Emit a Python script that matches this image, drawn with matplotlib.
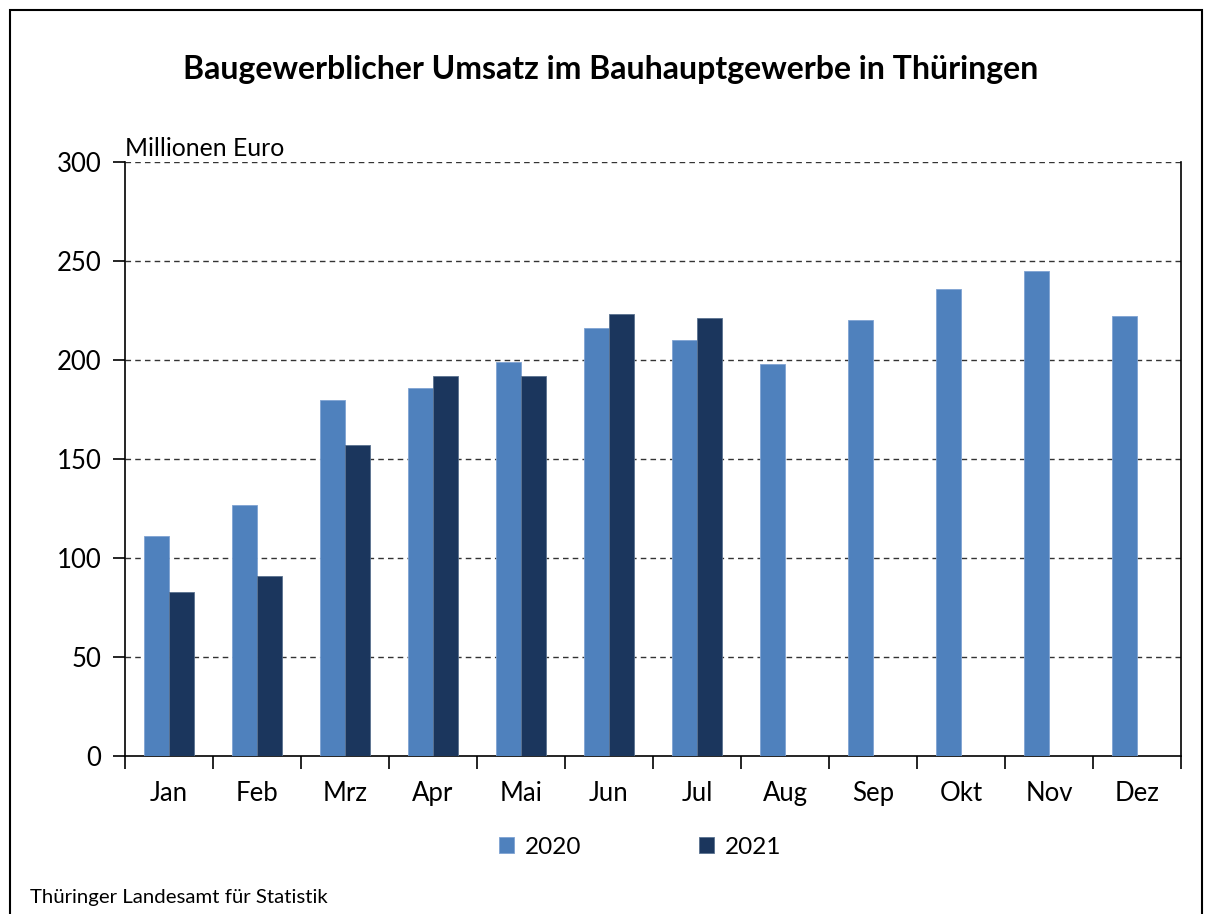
import matplotlib
matplotlib.use("Agg")
from matplotlib import pyplot as plt
from matplotlib.patches import Rectangle
import numpy as np

# data
months = ['Jan', 'Feb', 'Mrz', 'Apr', 'Mai', 'Jun', 'Jul', 'Aug', 'Sep', 'Okt', 'Nov', 'Dez']
umsatz_2020 = [111, 127, 180, 186, 199, 216, 210, 198, 220, 236, 245, 222]
umsatz_2021 = [83, 91, 157, 192, 192, 223, 221]

plt.rcParams['font.family'] = ['Lato', 'DejaVu Sans']

fig = plt.figure(figsize=(12.05, 9.14), dpi=100)
ax = fig.add_axes([125 / 1205, 1 - 756 / 914, 1056 / 1205, 594 / 914])

x = np.arange(len(months))
w = 0.284
ax.bar(x[:len(umsatz_2020)] - w / 2, umsatz_2020, w, color='#4F81BD', edgecolor='#7FA3D3', linewidth=0.6, label='2020', zorder=3)
ax.bar(x[:len(umsatz_2021)] + w / 2, umsatz_2021, w, color='#1B365D', edgecolor='#5A7290', linewidth=0.6, label='2021', zorder=3)

ax.set_xlim(-0.5, len(months) - 0.5)
ax.set_ylim(0, 300)
ax.set_yticks(range(0, 301, 50))
ax.tick_params(axis='y', labelsize=18.5, length=9, width=1.2, direction='out', pad=8)
for y in range(50, 301, 50):
    ax.axhline(y, color='#333333', linestyle=(0, (4, 3)), linewidth=1.0, zorder=1)

# month labels centred, tick marks between the months
ax.set_xticks(np.arange(-0.5, len(months)), minor=False)
ax.set_xticklabels([])
ax.set_xticks(x, minor=True)
ax.set_xticklabels(months, minor=True)
ax.tick_params(axis='x', which='major', length=9, width=1.2, direction='out')
ax.tick_params(axis='x', which='minor', length=0, labelsize=18.5, pad=18)

ax.spines['top'].set_visible(False)
ax.spines['left'].set_linewidth(1.2)
ax.spines['bottom'].set_linewidth(1.2)
ax.spines['right'].set_linewidth(1.2)

ax.text(0, 1.003, 'Millionen Euro', transform=ax.transAxes, fontsize=17.8, ha='left', va='bottom')

fig.text(611 / 1205, 1 - 70 / 914, 'Baugewerblicher Umsatz im Bauhauptgewerbe in Thüringen',
         fontsize=23, fontweight='bold', ha='center', va='center')

fig.legend(loc='center', bbox_to_anchor=(640 / 1205, 1 - 847 / 914), ncol=2, frameon=False,
           fontsize=17.5, handlelength=0.6, handleheight=0.6, handletextpad=0.45, columnspacing=4.85)

fig.text(30 / 1205, 1 - 898 / 914, 'Thüringer Landesamt für Statistik', fontsize=14.7, ha='left', va='center')

# outer frame
fig.patches.append(Rectangle((10 / 1205, -0.01), 1192 / 1205, 1 - 10 / 914 + 0.01, transform=fig.transFigure,
                             fill=False, edgecolor='black', linewidth=1.5))

fig.savefig('out.png', dpi=100)
